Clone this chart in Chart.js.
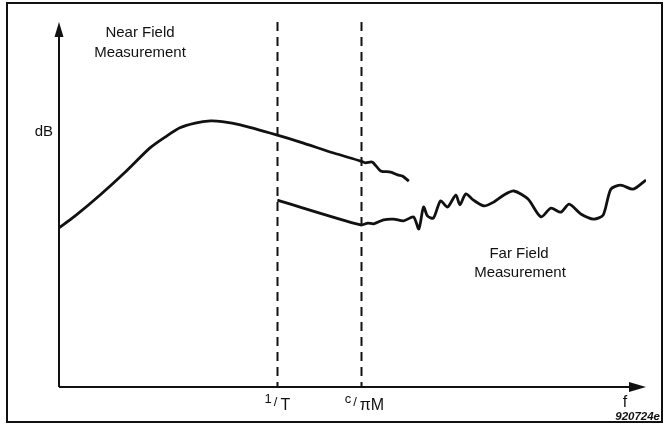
<!DOCTYPE html>
<html>
<head>
<meta charset="utf-8">
<script src="https://cdn.jsdelivr.net/npm/chart.js@4"></script>
<style>
  body { margin: 0; background: #fff; }
  canvas { display: block; }
</style>
</head>
<body>
<canvas id="fieldChart" width="671" height="425"></canvas>
<script>
// frequency axis runs 0..100, level (dB) axis runs 0..100, both arbitrary units
const nearFieldX = [0, 2.7, 7.0, 11.3, 15.5, 18.1, 20.6, 23.2, 25.8, 27.8, 30.9, 37.2, 41.1, 46.8, 51.4, 52.2, 53.4, 54.8, 56.5, 57.7, 58.5, 59.6];
const nearFieldY = [43.6, 46.8, 52.6, 58.9, 65.5, 68.5, 71.0, 72.3, 72.9, 72.7, 71.8, 69.0, 67.1, 64.1, 61.9, 61.4, 61.6, 59.2, 58.9, 58.1, 57.8, 56.4];

const farFieldX = [37.2, 51.4, 52.6, 53.6, 55.3, 57.0, 58.7, 60.4, 61.3, 62.1, 62.8, 63.8, 65.0, 66.2, 67.6, 68.3, 69.3, 70.6, 72.4, 74.1, 75.8, 77.5, 79.9, 82.1, 83.8, 85.5, 86.9, 88.9, 91.1, 92.7, 94.0, 95.7, 97.8, 100];
const farFieldY = [51.2, 44.4, 44.9, 44.7, 45.8, 46.0, 45.5, 46.6, 43.3, 49.3, 46.8, 46.3, 51.0, 49.3, 52.6, 49.9, 52.9, 51.2, 49.6, 50.7, 52.6, 53.7, 51.5, 46.6, 49.0, 47.9, 50.1, 47.4, 46.0, 47.1, 54.2, 55.3, 54.2, 56.7];

// boundary frequencies marked with dashed lines
const markerValues = [37.2, 51.4];
const markerLabels = [['1', '/', 'T'], ['c', '/', 'πM']];

const FONT = '"Liberation Sans", Arial, sans-serif';

function toPoints(xs, ys) {
    return xs.map((x, i) => ({ x: x, y: ys[i] }));
}

function arrowHead(ctx, tipX, tipY, dir) {
    ctx.beginPath();
    if (dir === 'up') {
        ctx.moveTo(tipX, tipY);
        ctx.lineTo(tipX - 4.5, tipY + 15);
        ctx.lineTo(tipX + 4.5, tipY + 15);
    } else {
        ctx.moveTo(tipX, tipY);
        ctx.lineTo(tipX - 17, tipY - 5);
        ctx.lineTo(tipX - 17, tipY + 5);
    }
    ctx.closePath();
    ctx.fill();
}

// draws "1/T" style labels: small raised numerator, slash, lowered denominator
function fractionLabel(ctx, parts, startX, baseY) {
    let x = startX;
    ctx.textAlign = 'left';
    ctx.textBaseline = 'alphabetic';
    ctx.font = '13px ' + FONT;
    ctx.fillText(parts[0], x, baseY - 5);
    x += ctx.measureText(parts[0]).width + 2;
    ctx.font = '13px ' + FONT;
    ctx.fillText(parts[1], x, baseY - 2);
    x += ctx.measureText(parts[1]).width + 3;
    ctx.font = '16px ' + FONT;
    ctx.fillText(parts[2], x, baseY + 2);
}

function fractionWidth(ctx, parts) {
    ctx.font = '13px ' + FONT;
    let w = ctx.measureText(parts[0]).width + 2;
    w += ctx.measureText(parts[1]).width + 3;
    ctx.font = '16px ' + FONT;
    return w + ctx.measureText(parts[2]).width;
}

const dashedMarkers = {
    id: 'dashedMarkers',
    beforeDatasetsDraw(chart) {
        const ctx = chart.ctx;
        const xs = chart.scales.x;
        const area = chart.chartArea;
        ctx.save();
        ctx.strokeStyle = '#111';
        ctx.lineWidth = 2;
        ctx.setLineDash([9, 6]);
        markerValues.forEach(v => {
            const px = Math.round(xs.getPixelForValue(v)) + 0.5;
            ctx.beginPath();
            ctx.moveTo(px, area.top);
            ctx.lineTo(px, area.bottom);
            ctx.stroke();
        });
        ctx.restore();
    }
};

const diagramDecor = {
    id: 'diagramDecor',
    afterDraw(chart) {
        const ctx = chart.ctx;
        const area = chart.chartArea;
        const xs = chart.scales.x;
        ctx.save();
        ctx.fillStyle = '#111';
        ctx.strokeStyle = '#111';

        // outer frame
        ctx.lineWidth = 2;
        ctx.strokeRect(7, 3, 655, 419);

        // axes with arrowheads
        ctx.lineWidth = 2;
        ctx.beginPath();
        ctx.moveTo(area.left, area.bottom);
        ctx.lineTo(area.left, area.top + 10);
        ctx.moveTo(area.left, area.bottom);
        ctx.lineTo(area.right - 10, area.bottom);
        ctx.stroke();
        arrowHead(ctx, area.left, area.top, 'up');
        arrowHead(ctx, area.right, area.bottom, 'right');

        // text annotations
        ctx.textAlign = 'center';
        ctx.textBaseline = 'alphabetic';
        ctx.font = '15px ' + FONT;
        ctx.fillText('Near Field', 140, 37);
        ctx.fillText('Measurement', 140, 57);
        ctx.fillText('Far Field', 519, 258);
        ctx.fillText('Measurement', 520, 277);
        ctx.textAlign = 'right';
        ctx.fillText('dB', 53, 136);
        ctx.textAlign = 'center';
        ctx.font = '16px ' + FONT;
        ctx.fillText('f', 625, 407);

        ctx.font = 'italic bold 11.5px ' + FONT;
        ctx.textAlign = 'right';
        ctx.fillText('920724e', 660, 420);

        // tick labels under the dashed lines
        markerLabels.forEach((parts, i) => {
            const px = xs.getPixelForValue(markerValues[i]);
            const w = fractionWidth(ctx, parts);
            const start = i === 0 ? px - w / 2 : px - 16;
            fractionLabel(ctx, parts, start, 408);
        });
        ctx.restore();
    }
};

new Chart(document.getElementById('fieldChart').getContext('2d'), {
    type: 'line',
    data: {
        datasets: [
            {
                label: 'Near Field Measurement',
                data: toPoints(nearFieldX, nearFieldY),
                borderColor: '#111',
                borderWidth: 2.8,
                pointRadius: 0,
                tension: 0.25,
                fill: false
            },
            {
                label: 'Far Field Measurement',
                data: toPoints(farFieldX, farFieldY),
                borderColor: '#111',
                borderWidth: 2.8,
                pointRadius: 0,
                tension: 0.25,
                fill: false
            }
        ]
    },
    options: {
        responsive: false,
        animation: false,
        layout: {
            padding: { left: 59, right: 25, top: 22, bottom: 38 }
        },
        scales: {
            x: { type: 'linear', min: 0, max: 100, display: false },
            y: { type: 'linear', min: 0, max: 100, display: false }
        },
        plugins: {
            legend: { display: false },
            tooltip: { enabled: false }
        }
    },
    plugins: [dashedMarkers, diagramDecor]
});
</script>
</body>
</html>
